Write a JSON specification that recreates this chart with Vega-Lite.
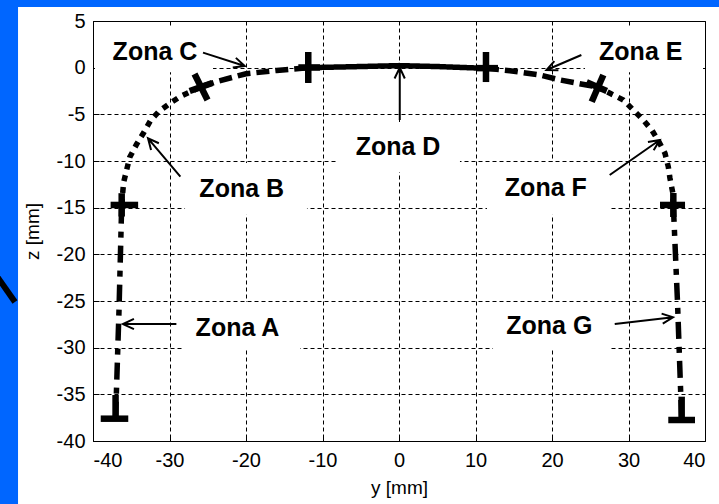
{
  "$schema": "https://vega.github.io/schema/vega-lite/v6.json",
  "width": 612,
  "height": 420,
  "autosize": {"type": "none"},
  "padding": {"left": 93, "top": 21, "right": 14, "bottom": 63},
  "background": "white",
  "config": {
    "view": {"stroke": "black", "strokeWidth": 1},
    "font": "Liberation Sans",
    "axis": {
      "grid": true,
      "gridColor": "black",
      "gridDash": [4, 3],
      "gridOpacity": 1,
      "gridWidth": 1,
      "domain": false,
      "ticks": true,
      "tickColor": "black",
      "tickSize": -6,
      "tickWidth": 1,
      "labelFont": "Liberation Sans",
      "labelFontSize": 20,
      "labelColor": "black",
      "titleFont": "Liberation Sans",
      "titleFontSize": 19,
      "titleFontWeight": "normal",
      "titleColor": "black"
    }
  },
  "datasets": {
    "frame": [
      {"y": -60, "y2": -49.8, "z": 12, "z2": -50},
      {"y": -60, "y2": 50, "z": 12, "z2": 6.5}
    ],
    "boxes": [
      {"box": "A", "y": -28.37, "y2": -12.94, "z": -25.11, "z2": -30.2},
      {"box": "B", "y": -27.97, "y2": -12.03, "z": -10.21, "z2": -15.75},
      {"box": "C", "y": -39.74, "y2": -24.31, "z": 4.36, "z2": -0.5},
      {"box": "D", "y": -7.97, "y2": 7.97, "z": -5.82, "z2": -11.18},
      {"box": "E", "y": 24.31, "y2": 39.74, "z": 4.36, "z2": -0.5},
      {"box": "F", "y": 11.5, "y2": 27.58, "z": -10.11, "z2": -15.75},
      {"box": "G", "y": 12.29, "y2": 27.71, "z": -25.11, "z2": -30.2}
    ],
    "profile": [
      {"zone": "A", "i": 0, "y": -37.05, "z": -37.6},
      {"zone": "A", "i": 1, "y": -36.6, "z": -26},
      {"zone": "A", "i": 2, "y": -36.25, "z": -14.71},
      {"zone": "B", "i": 0, "y": -36.25, "z": -14.71},
      {"zone": "B", "i": 1, "y": -36.0, "z": -12.3},
      {"zone": "B", "i": 2, "y": -35.2, "z": -9.6},
      {"zone": "B", "i": 3, "y": -34.3, "z": -8.2},
      {"zone": "B", "i": 4, "y": -33.4, "z": -7.0},
      {"zone": "B", "i": 5, "y": -32.5, "z": -5.7},
      {"zone": "B", "i": 6, "y": -31.4, "z": -4.7},
      {"zone": "B", "i": 7, "y": -29.9, "z": -3.8},
      {"zone": "B", "i": 8, "y": -28.6, "z": -3.1},
      {"zone": "B", "i": 9, "y": -27.3, "z": -2.6},
      {"zone": "B", "i": 10, "y": -25.84, "z": -2.04},
      {"zone": "C", "i": 0, "y": -25.84, "z": -2.04},
      {"zone": "C", "i": 1, "y": -23.9, "z": -1.5},
      {"zone": "C", "i": 2, "y": -20.0, "z": -0.65},
      {"zone": "C", "i": 3, "y": -16.0, "z": -0.3},
      {"zone": "C", "i": 4, "y": -11.86, "z": 0.0},
      {"zone": "D", "i": 0, "y": -11.86, "z": 0.0},
      {"zone": "D", "i": 1, "y": -5.0, "z": 0.12},
      {"zone": "D", "i": 2, "y": 0.0, "z": 0.22},
      {"zone": "D", "i": 3, "y": 5.0, "z": 0.12},
      {"zone": "D", "i": 4, "y": 11.37, "z": -0.07},
      {"zone": "E", "i": 0, "y": 11.37, "z": -0.07},
      {"zone": "E", "i": 1, "y": 14.5, "z": -0.33},
      {"zone": "E", "i": 2, "y": 18.4, "z": -0.79},
      {"zone": "E", "i": 3, "y": 21.05, "z": -1.32},
      {"zone": "E", "i": 4, "y": 24.54, "z": -1.86},
      {"zone": "E", "i": 5, "y": 25.84, "z": -2.04},
      {"zone": "F", "i": 0, "y": 25.84, "z": -2.04},
      {"zone": "F", "i": 1, "y": 27.58, "z": -2.75},
      {"zone": "F", "i": 2, "y": 29.32, "z": -3.46},
      {"zone": "F", "i": 3, "y": 30.63, "z": -4.54},
      {"zone": "F", "i": 4, "y": 31.93, "z": -5.61},
      {"zone": "F", "i": 5, "y": 33.1, "z": -6.75},
      {"zone": "F", "i": 6, "y": 33.95, "z": -7.9},
      {"zone": "F", "i": 7, "y": 34.77, "z": -9.18},
      {"zone": "F", "i": 8, "y": 35.2, "z": -10.61},
      {"zone": "F", "i": 9, "y": 35.42, "z": -11.85},
      {"zone": "F", "i": 10, "y": 35.8, "z": -13.46},
      {"zone": "F", "i": 11, "y": 35.86, "z": -14.71},
      {"zone": "G", "i": 0, "y": 35.86, "z": -14.71},
      {"zone": "G", "i": 1, "y": 36.4, "z": -25},
      {"zone": "G", "i": 2, "y": 36.95, "z": -37.75}
    ],
    "crosses": [
      {"bar": "ab1", "y": -37.7, "z": -14.71},
      {"bar": "ab1", "y": -34.1, "z": -14.71},
      {"bar": "ab2", "y": -36.25, "z": -13.45},
      {"bar": "ab2", "y": -36.25, "z": -15.95},
      {"bar": "bc1", "y": -26.73, "z": -0.68},
      {"bar": "bc1", "y": -25.03, "z": -3.46},
      {"bar": "bc2", "y": -27.36, "z": -2.5},
      {"bar": "bc2", "y": -24.41, "z": -1.64},
      {"bar": "cd1", "y": -11.86, "z": 1.68},
      {"bar": "cd1", "y": -11.86, "z": -1.64},
      {"bar": "cd2", "y": -13.16, "z": 0.02},
      {"bar": "cd2", "y": -10.33, "z": 0.02},
      {"bar": "de1", "y": 11.37, "z": 1.68},
      {"bar": "de1", "y": 11.37, "z": -1.54},
      {"bar": "de2", "y": 10.07, "z": -0.05},
      {"bar": "de2", "y": 12.94, "z": -0.05},
      {"bar": "ef1", "y": 26.71, "z": -0.79},
      {"bar": "ef1", "y": 25.19, "z": -3.65},
      {"bar": "ef2", "y": 24.52, "z": -1.57},
      {"bar": "ef2", "y": 27.16, "z": -2.51},
      {"bar": "fg1", "y": 34.12, "z": -14.71},
      {"bar": "fg1", "y": 37.39, "z": -14.71},
      {"bar": "fg2", "y": 35.86, "z": -13.43},
      {"bar": "fg2", "y": 35.86, "z": -16.0},
      {"bar": "endA1", "y": -38.99, "z": -37.61},
      {"bar": "endA1", "y": -35.39, "z": -37.61},
      {"bar": "endA2", "y": -37.05, "z": -37.61},
      {"bar": "endA2", "y": -37.05, "z": -35.07},
      {"bar": "endG1", "y": 35.2, "z": -37.75},
      {"bar": "endG1", "y": 38.69, "z": -37.75},
      {"bar": "endG2", "y": 36.95, "z": -37.75},
      {"bar": "endG2", "y": 36.95, "z": -35.25}
    ],
    "arrows": [
      {"arrow": "C", "k": 0, "y": -25.62, "z": 1.61},
      {"arrow": "C", "k": 1, "y": -20.17, "z": 0.18},
      {"arrow": "C", "k": 2, "y": -21.32, "z": 1.05},
      {"arrow": "C", "k": 3, "y": -20.17, "z": 0.18},
      {"arrow": "C", "k": 4, "y": -21.73, "z": 0.02},
      {"arrow": "B", "k": 0, "y": -28.58, "z": -11.68},
      {"arrow": "B", "k": 1, "y": -32.81, "z": -7.57},
      {"arrow": "B", "k": 2, "y": -32.41, "z": -8.81},
      {"arrow": "B", "k": 3, "y": -32.81, "z": -7.57},
      {"arrow": "B", "k": 4, "y": -31.39, "z": -8.1},
      {"arrow": "D", "k": 0, "y": 0.1, "z": -5.61},
      {"arrow": "D", "k": 1, "y": 0.1, "z": 0.0},
      {"arrow": "D", "k": 2, "y": -0.58, "z": -1.16},
      {"arrow": "D", "k": 3, "y": 0.1, "z": 0.0},
      {"arrow": "D", "k": 4, "y": 0.76, "z": -1.16},
      {"arrow": "E", "k": 0, "y": 23.84, "z": 1.36},
      {"arrow": "E", "k": 1, "y": 19.27, "z": -0.25},
      {"arrow": "E", "k": 2, "y": 20.84, "z": -0.29},
      {"arrow": "E", "k": 3, "y": 19.27, "z": -0.25},
      {"arrow": "E", "k": 4, "y": 20.31, "z": 0.71},
      {"arrow": "F", "k": 0, "y": 27.54, "z": -11.5},
      {"arrow": "F", "k": 1, "y": 34.08, "z": -7.75},
      {"arrow": "F", "k": 2, "y": 32.54, "z": -7.97},
      {"arrow": "F", "k": 3, "y": 34.08, "z": -7.75},
      {"arrow": "F", "k": 4, "y": 33.29, "z": -8.86},
      {"arrow": "A", "k": 0, "y": -29.1, "z": -27.47},
      {"arrow": "A", "k": 1, "y": -36.08, "z": -27.47},
      {"arrow": "A", "k": 2, "y": -34.65, "z": -28.02},
      {"arrow": "A", "k": 3, "y": -36.08, "z": -27.47},
      {"arrow": "A", "k": 4, "y": -34.65, "z": -26.92},
      {"arrow": "G", "k": 0, "y": 28.2, "z": -27.47},
      {"arrow": "G", "k": 1, "y": 35.82, "z": -26.75},
      {"arrow": "G", "k": 2, "y": 34.33, "z": -26.35},
      {"arrow": "G", "k": 3, "y": 35.82, "z": -26.75},
      {"arrow": "G", "k": 4, "y": 34.48, "z": -27.43}
    ],
    "labels": [
      {"label": "Zona A", "y": -21.11, "z": -27.84},
      {"label": "Zona B", "y": -20.56, "z": -13.0},
      {"label": "Zona C", "y": -31.9, "z": 1.68},
      {"label": "Zona D", "y": -0.13, "z": -8.55},
      {"label": "Zona E", "y": 31.6, "z": 1.68},
      {"label": "Zona F", "y": 19.19, "z": -12.84},
      {"label": "Zona G", "y": 19.65, "z": -27.68}
    ],
    "wedge": [
      {"y": -52.6, "z": -22.3},
      {"y": -50.2, "z": -25.1}
    ]
  },
  "encoding": {
    "x": {
      "field": "y",
      "type": "quantitative",
      "scale": {"domain": [-40, 40], "nice": false, "zero": false},
      "axis": {
        "values": [-40, -30, -20, -10, 0, 10, 20, 30, 40],
        "labelExpr": "'' + datum.value",
        "labelPadding": 15,
        "title": "y [mm]",
        "titlePadding": 8
      }
    },
    "y": {
      "field": "z",
      "type": "quantitative",
      "scale": {"domain": [-40, 5], "nice": false, "zero": false},
      "axis": {
        "values": [-40, -35, -30, -25, -20, -15, -10, -5, 0, 5],
        "labelExpr": "'' + datum.value",
        "labelPadding": 14,
        "title": "z [mm]",
        "titlePadding": 14
      }
    }
  },
  "layer": [
    {
      "data": {"name": "frame"},
      "mark": {"type": "rect", "color": "#0066ff", "clip": false},
      "encoding": {"x2": {"field": "y2"}, "y2": {"field": "z2"}}
    },
    {
      "data": {"name": "boxes"},
      "mark": {"type": "rect", "color": "white"},
      "encoding": {"x2": {"field": "y2"}, "y2": {"field": "z2"}}
    },
    {
      "data": {"name": "profile"},
      "mark": {"type": "line", "color": "black", "strokeWidth": 5.5},
      "encoding": {
        "strokeDash": {
          "field": "zone",
          "type": "nominal",
          "scale": {
            "domain": ["A", "B", "C", "D", "E", "F", "G"],
            "range": [[17, 8, 6, 8], [6, 6], [13, 6], [1, 0], [13, 6], [6, 6], [17, 8, 6, 8]]
          },
          "legend": null
        },
        "order": {"field": "i", "type": "quantitative"}
      }
    },
    {
      "data": {"name": "crosses"},
      "mark": {"type": "line", "color": "black", "strokeWidth": 6.5},
      "encoding": {"detail": {"field": "bar", "type": "nominal"}}
    },
    {
      "data": {"name": "arrows"},
      "mark": {"type": "line", "color": "black", "strokeWidth": 2},
      "encoding": {
        "detail": {"field": "arrow", "type": "nominal"},
        "order": {"field": "k", "type": "quantitative"}
      }
    },
    {
      "data": {"name": "labels"},
      "mark": {"type": "text", "font": "Liberation Sans", "fontSize": 25, "fontWeight": "bold", "align": "center", "baseline": "middle", "color": "black"},
      "encoding": {"text": {"field": "label", "type": "nominal"}}
    },
    {
      "data": {"name": "wedge"},
      "mark": {"type": "line", "color": "black", "strokeWidth": 6, "clip": false},
      "encoding": {}
    }
  ]
}
